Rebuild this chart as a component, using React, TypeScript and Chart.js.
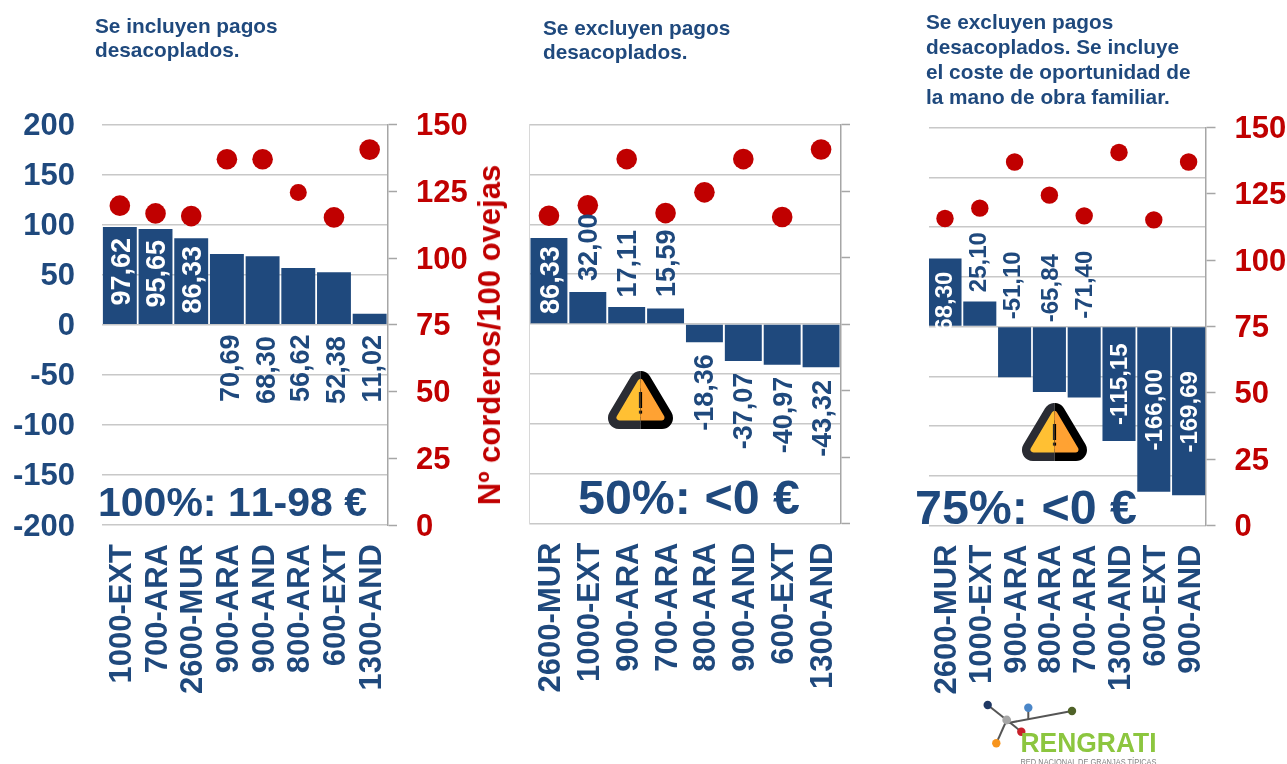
import React, { useEffect, useRef } from "react";
import { Chart, registerables } from "chart.js";

Chart.register(...registerables);

const BLUE = "#1F497D";
const RED = "#C00000";
const FONT = "'Liberation Sans', Arial, sans-serif";

// ---- data ----
const categories1 = ["1000-EXT", "700-ARA", "2600-MUR", "900-ARA", "900-AND", "800-ARA", "600-EXT", "1300-AND"];
const margin1 = [97.62, 95.65, 86.33, 70.69, 68.3, 56.62, 52.38, 11.02];
const lambs1 = [119.6, 116.7, 115.7, 137, 137, 124.5, 115.2, 140.6];
const valueText1 = ["97,62", "95,65", "86,33", "70,69", "68,30", "56,62", "52,38", "11,02"];

const categories2 = ["2600-MUR", "1000-EXT", "900-ARA", "700-ARA", "800-ARA", "900-AND", "600-EXT", "1300-AND"];
const margin2 = [86.33, 32.0, 17.11, 15.59, -18.36, -37.07, -40.97, -43.32];
const lambs2 = [115.7, 119.6, 137, 116.7, 124.5, 137, 115.2, 140.6];
const valueText2 = ["86,33", "32,00", "17,11", "15,59", "-18,36", "-37,07", "-40,97", "-43,32"];

const categories3 = ["2600-MUR", "1000-EXT", "900-ARA", "800-ARA", "700-ARA", "1300-AND", "600-EXT", "900-AND"];
const margin3 = [68.3, 25.1, -51.1, -65.84, -71.4, -115.15, -166.0, -169.69];
const lambs3 = [115.7, 119.6, 137, 124.5, 116.7, 140.6, 115.2, 137];
const valueText3 = ["68,30", "25,10", "-51,10", "-65,84", "-71,40", "-115,15", "-166,00", "-169,69"];

const leftTickRange = [-200, 200];
const rightTickRange = [0, 150];

// label anchors, in left-axis units (where the centre of each rotated value label sits)
const labelAnchor1 = [53, 51, 45, -43.5, -45.3, -43.5, -45.3, -44];
const labelAnchor2 = [44, 77, 60.4, 61, -68.7, -87.3, -91.3, -94.6];
const labelAnchor3 = [25, 64.7, 41.4, 38.5, 42, -58, -83.6, -85.8];
const labelNudge1 = [1, 1, 1, 3, 3, 1.5, 2.5, 2];
const labelNudge2 = [1.5, 0.5, 0.5, 0, 0, 0, 0.5, 0.5];
const labelNudge3 = [-0.7, -2.3, -3, 0, 0, 0, 0, 0];
const labelInside1 = [true, true, true, false, false, false, false, false];
const labelInside2 = [true, false, false, false, false, false, false, false];
const labelInside3 = [true, false, false, false, false, true, true, true];
const dotRadius1 = [10.3, 10.3, 10.3, 10.3, 10.3, 8.5, 10.3, 10.3];
const dotRadius2 = [10.3, 10.3, 10.3, 10.3, 10.3, 10.3, 10.3, 10.3];
const dotRadius3 = [8.7, 8.7, 8.7, 8.7, 8.7, 8.7, 8.7, 8.7];

type Panel = {
  categories: string[];
  margin: number[];
  lambs: number[];
  valueText: string[];
  anchor: number[];
  nudge: number[];
  inside: boolean[];
  radius: number[];
  labelFont: number;
  box: { left: number; right: number; top: number; bottom: number };
  showLeft: boolean;
  showRight: boolean;
  leftBorder: boolean;
};

const panels: Panel[] = [
  {
    categories: categories1, margin: margin1, lambs: lambs1, valueText: valueText1,
    anchor: labelAnchor1, nudge: labelNudge1, inside: labelInside1, radius: dotRadius1, labelFont: 27,
    box: { left: 102, right: 387.5, top: 124.5, bottom: 525 },
    showLeft: true, showRight: true, leftBorder: false,
  },
  {
    categories: categories2, margin: margin2, lambs: lambs2, valueText: valueText2,
    anchor: labelAnchor2, nudge: labelNudge2, inside: labelInside2, radius: dotRadius2, labelFont: 27,
    box: { left: 529.5, right: 840.5, top: 124.5, bottom: 523.5 },
    showLeft: false, showRight: false, leftBorder: true,
  },
  {
    categories: categories3, margin: margin3, lambs: lambs3, valueText: valueText3,
    anchor: labelAnchor3, nudge: labelNudge3, inside: labelInside3, radius: dotRadius3, labelFont: 24,
    box: { left: 927.6, right: 1206, top: 127.5, bottom: 525.5 },
    showLeft: false, showRight: true, leftBorder: false,
  },
];

const W = 1287;
const H = 764;

function buildChart(canvas: HTMLCanvasElement, p: Panel) {
  const valueLabels = {
    id: "valueLabels",
    afterDatasetsDraw(chart: any) {
      const { ctx, scales } = chart;
      const meta = chart.getDatasetMeta(0);
      ctx.save();
      ctx.font = `bold ${p.labelFont}px ${FONT}`;
      ctx.fontKerning = "none";
      ctx.textAlign = "center";
      ctx.textBaseline = "middle";
      p.valueText.forEach((t, i) => {
        const x = meta.data[i].x + 1.5 + p.nudge[i];
        const y = scales.y.getPixelForValue(p.anchor[i]);
        ctx.save();
        ctx.translate(x, y);
        ctx.rotate(-Math.PI / 2);
        ctx.fillStyle = p.inside[i] ? "#ffffff" : BLUE;
        ctx.fillText(t, 0, 0);
        ctx.restore();
      });
      ctx.restore();
    },
  };

  return new Chart(canvas, {
    type: "bar",
    data: {
      labels: p.categories,
      datasets: [
        {
          type: "bar",
          data: p.margin,
          backgroundColor: BLUE,
          categoryPercentage: 1,
          barPercentage: 0.95,
          yAxisID: "y",
          order: 2,
        },
        {
          type: "line",
          data: p.lambs,
          showLine: false,
          pointRadius: p.radius,
          pointBackgroundColor: RED,
          pointBorderWidth: 0,
          yAxisID: "y1",
          order: 1,
        },
      ],
    } as any,
    options: {
      animation: false,
      responsive: false,
      layout: { padding: { top: p.box.top, left: 0, right: 0, bottom: 0 } },
      plugins: { legend: { display: false }, tooltip: { enabled: false } },
      scales: {
        x: {
          grid: { display: false },
          border: { display: false },
          afterFit(s: any) { s.height = H - p.box.bottom; },
          ticks: {
            autoSkip: false,
            minRotation: 90,
            maxRotation: 90,
            padding: 11,
            labelOffset: 2.5,
            color: BLUE,
            font: { family: FONT, size: 31, weight: "bold" },
          },
        },
        y: {
          position: "left",
          min: leftTickRange[0],
          max: leftTickRange[1],
          afterFit(s: any) { s.width = p.box.left; },
          border: { display: p.leftBorder, color: "#d8d8d8" },
          grid: { color: "#c8c8c8", lineWidth: 1.5, drawTicks: false },
          ticks: {
            display: p.showLeft,
            stepSize: 50,
            padding: 27,
            labelOffset: 2,
            color: BLUE,
            font: { family: FONT, size: 31, weight: "bold" },
          },
        },
        y1: {
          position: "right",
          min: rightTickRange[0],
          max: rightTickRange[1],
          afterFit(s: any) { s.width = W - p.box.right; },
          border: { display: true, color: "#a6a6a6", width: 1.5 },
          grid: { drawOnChartArea: false, drawTicks: true, tickLength: 9.5, tickColor: "#a6a6a6", tickWidth: 1.5 },
          ticks: {
            display: p.showRight,
            stepSize: 25,
            padding: 19,
            labelOffset: 2,
            color: RED,
            font: { family: FONT, size: 31, weight: "bold" },
          },
        },
      },
    } as any,
    plugins: [valueLabels],
  });
}

function Warning({ left, top }: { left: number; top: number }) {
  const id = `warn${left}`;
  const shape = (border: string, fill: string, mark: string) => (
    <>
      <polygon points="32.5,11 11,47 54,47" fill={border} stroke={border} strokeWidth={22} strokeLinejoin="round" />
      <polygon points="32.5,11 11.5,46.5 53.5,46.5" fill={fill} stroke={fill} strokeWidth={6} strokeLinejoin="round" />
      <line x1={32.5} y1={21} x2={32.5} y2={37} stroke={mark} strokeWidth={3.2} />
      <rect x={30.9} y={39.6} width={3.2} height={3} fill={mark} />
    </>
  );
  return (
    <svg width={65} height={58} viewBox="0 0 65 58" style={{ position: "absolute", left, top }}>
      <defs>
        <clipPath id={`${id}l`}><rect x={0} y={0} width={32.5} height={58} /></clipPath>
        <clipPath id={`${id}r`}><rect x={32.5} y={0} width={32.5} height={58} /></clipPath>
      </defs>
      <g clipPath={`url(#${id}l)`}>{shape("#2a2c33", "#FFC033", "#2a2c33")}</g>
      <g clipPath={`url(#${id}r)`}>{shape("#000000", "#FFA233", "#000000")}</g>
    </svg>
  );
}

function Logo() {
  const c = { x: 1006.7, y: 720 };
  const links = [
    { x1: c.x, y1: c.y, x2: 987.7, y2: 705 },
    { x1: 1008, y1: 723, x2: 1072, y2: 711 },
    { x1: 1028.3, y1: 707.7, x2: 1028.3, y2: 719.5 },
    { x1: c.x, y1: c.y, x2: 1021.3, y2: 731.7 },
    { x1: c.x, y1: c.y, x2: 996.3, y2: 743.3 },
  ];
  const nodes = [
    { x: 987.7, y: 705, f: "#1F3864" },
    { x: 1028.3, y: 707.7, f: "#4A86C8" },
    { x: 1072, y: 711, f: "#4F6228" },
    { x: 1021.3, y: 731.7, f: "#C8202A" },
    { x: 996.3, y: 743.3, f: "#F7941D" },
  ];
  return (
    <svg width={W} height={H} style={{ position: "absolute", left: 0, top: 0 }}>
      {links.map((l, i) => (
        <line key={i} {...l} stroke="#555" strokeWidth={2} />
      ))}
      {nodes.map((n, i) => (
        <circle key={i} cx={n.x} cy={n.y} r={4.2} fill={n.f} />
      ))}
      <circle cx={c.x} cy={c.y} r={4.4} fill="#A6A6A6" />
      <text x={1020.5} y={752} fontFamily={FONT} fontWeight="bold" fontSize={28} fill="#8CC63F" textLength={136} lengthAdjust="spacingAndGlyphs">RENGRATI</text>
      <text x={1020.5} y={765} fontFamily={FONT} fontSize={9} fill="#808080" textLength={136} lengthAdjust="spacingAndGlyphs">RED NACIONAL DE GRANJAS TÍPICAS</text>
    </svg>
  );
}

const noteStyle = (left: number, top: number, lh: number): React.CSSProperties => ({
  position: "absolute", left, top, color: BLUE, fontFamily: FONT, fontWeight: "bold",
  fontSize: 20.8, lineHeight: `${lh}px`, whiteSpace: "pre",
});

const bigStyle = (left: number, centre: number, size: number): React.CSSProperties => ({
  position: "absolute", left, top: centre - size * 0.6, color: BLUE, fontFamily: FONT, fontWeight: "bold",
  fontSize: size, lineHeight: `${size * 1.2}px`, whiteSpace: "pre", fontKerning: "none",
});

export default function App() {
  const c1 = useRef<HTMLCanvasElement>(null);
  const c2 = useRef<HTMLCanvasElement>(null);
  const c3 = useRef<HTMLCanvasElement>(null);

  useEffect(() => {
    const charts = [c1, c2, c3].map((r, i) => buildChart(r.current as HTMLCanvasElement, panels[i]));
    return () => charts.forEach((c) => c.destroy());
  }, []);

  const canvasStyle: React.CSSProperties = { position: "absolute", left: 0, top: 0, width: W, height: H };

  return (
    <div style={{ position: "absolute", left: 0, top: 0, width: W, height: H, overflow: "hidden", background: "#fff" }}>
      <canvas ref={c1} width={W} height={H} style={canvasStyle} />
      <canvas ref={c2} width={W} height={H} style={canvasStyle} />
      <canvas ref={c3} width={W} height={H} style={canvasStyle} />

      {/* the third panel's picture is cropped on its left side in the reference */}
      <div style={{ position: "absolute", left: 915, top: 120, width: 14.3, height: 410, background: "#fff" }} />

      <div style={noteStyle(95, 14, 24)}>{"Se incluyen pagos\ndesacoplados."}</div>
      <div style={noteStyle(543, 15.5, 24)}>{"Se excluyen pagos\ndesacoplados."}</div>
      <div style={noteStyle(926, 8.5, 25)}>{"Se excluyen pagos\ndesacoplados. Se incluye\nel coste de oportunidad de\nla mano de obra familiar."}</div>

      <div style={bigStyle(98, 503, 41)}>100%: 11-98 €</div>
      <div style={bigStyle(578, 497.5, 48.4)}>50%: &lt;0 €</div>
      <div style={bigStyle(915, 507.5, 48.4)}>75%: &lt;0 €</div>

      <div
        style={{
          position: "absolute", left: 490, top: 335, color: RED, fontFamily: FONT, fontWeight: "bold", fontSize: 31,
          whiteSpace: "pre", transform: "translate(-50%, -50%) rotate(-90deg)",
        }}
      >
        Nº corderos/100 ovejas
      </div>

      <Warning left={608} top={371} />
      <Warning left={1022} top={403} />
      <Logo />
    </div>
  );
}
